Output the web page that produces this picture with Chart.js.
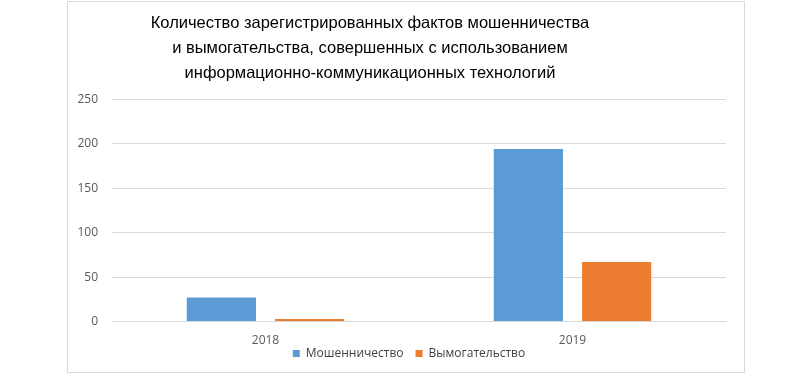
<!DOCTYPE html>
<html>
<head>
<meta charset="utf-8">
<script src="https://cdn.jsdelivr.net/npm/chart.js@4"></script>
<style>
html,body{margin:0;padding:0;background:#fff;width:811px;height:375px;overflow:hidden;}
#box{position:absolute;left:67px;top:1px;width:676px;height:370px;border:1px solid #d9d9d9;}
#wrap{position:absolute;left:0;top:0;width:744px;height:372px;}
</style>
</head>
<body>
<div id="box"></div>
<div id="wrap"><canvas id="c"></canvas></div>
<script>
const categories = ['2018', '2019'];
const seriesNames = ['Мошенничество', 'Вымогательство'];
const fraud = [27, 194];
const extortion = [3, 67];
const titleLines = ['Количество зарегистрированных фактов мошенничества', 'и вымогательства, совершенных с использованием', 'информационно-коммуникационных технологий'];

const placeLegend = {
  id: 'placeLegend',
  afterLayout(chart) {
    const l = chart.legend;
    if (!l) return;
    l.left -= 10; l.right -= 10;
    const h = l.bottom - l.top;
    l.top = chart.chartArea.bottom + 14;
    l.bottom = l.top + h;
  }
};

new Chart(document.getElementById('c'), {
  type: 'bar',
  data: {
    labels: categories,
    datasets: [
      {label: seriesNames[0], data: fraud, backgroundColor: '#5B9BD5', categoryPercentage: 0.575, barPercentage: 0.784},
      {label: seriesNames[1], data: extortion, backgroundColor: '#ED7D31', categoryPercentage: 0.575, barPercentage: 0.784}
    ]
  },
  plugins: [placeLegend],
  options: {
    responsive: true,
    maintainAspectRatio: false,
    animation: false,
    layout: {padding: {top: 0, right: 18, bottom: -22, left: 14}},
    plugins: {
      title: {
        display: true,
        text: titleLines,
        color: '#000',
        font: {family: 'Liberation Sans', size: 16.5, weight: 'normal', lineHeight: 1.52},
        padding: {top: 11, bottom: 13}
      },
      legend: {
        position: 'bottom',
        fullSize: false,
        labels: {boxWidth: 7, boxHeight: 7, color: '#404040', font: {family: 'Open Sans', size: 12}, padding: 12}
      },
      tooltip: {enabled: false}
    },
    scales: {
      x: {
        grid: {display: false, drawTicks: false},
        border: {display: true, color: '#d9d9d9'},
        ticks: {color: '#595959', font: {family: 'Open Sans', size: 12}, padding: 12}
      },
      y: {
        min: 0, max: 250,
        ticks: {stepSize: 50, color: '#595959', font: {family: 'Open Sans', size: 12}, padding: 14},
        grid: {color: '#d9d9d9', drawTicks: false},
        border: {display: false},
        afterFit: function(scale){ scale.width = 98; }
      }
    }
  }
});
</script>
</body>
</html>
